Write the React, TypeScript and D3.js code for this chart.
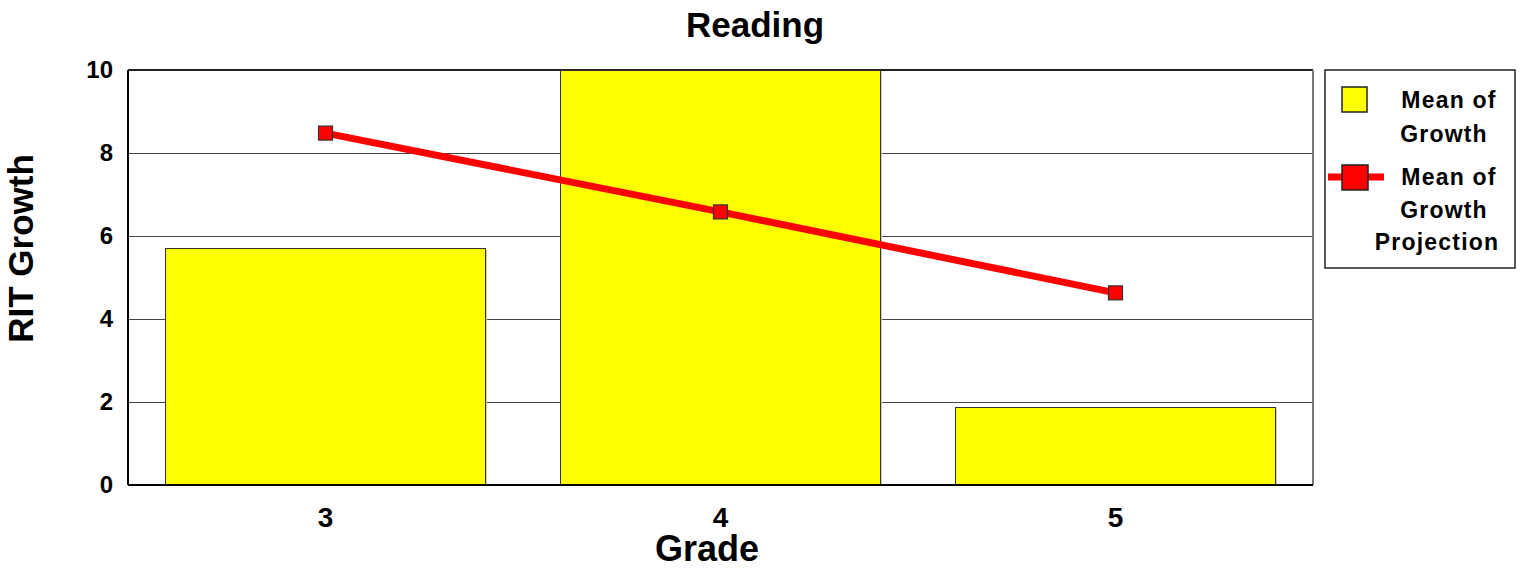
import React from "react";
import * as d3 from "d3";

const grades = ["3", "4", "5"];
const meanGrowth = [5.7, 10, 1.87];
const growthProjection = [8.48, 6.58, 4.63];
const yTicks = [0, 2, 4, 6, 8, 10];

const width = 1527;
const height = 568;
const margin = { top: 70, right: 214, bottom: 83, left: 128 };
const font = "Arial, 'Liberation Sans', sans-serif";

export default function App() {
  const x = d3
    .scaleBand<string>()
    .domain(grades)
    .range([margin.left, width - margin.right])
    .padding(0);

  const y = d3
    .scaleLinear()
    .domain([0, 10])
    .range([height - margin.bottom, margin.top]);

  const barW = x.bandwidth() * 0.81;
  const cx = (g: string) => (x(g) ?? 0) + x.bandwidth() / 2;

  const line = d3
    .line<number>()
    .x((_, i) => cx(grades[i]))
    .y((d) => y(d));

  const left = margin.left;
  const right = width - margin.right;
  const top = margin.top;
  const bottom = height - margin.bottom;

  // legend box
  const lg = { x: 1325, y: 70, w: 190, h: 198 };

  return (
    <svg
      width={width}
      height={height}
      style={{ position: "absolute", left: 0, top: 0, background: "#fff" }}
      fontFamily={font}
      fontWeight="bold"
    >
      <text x={755} y={37} textAnchor="middle" fontSize={35}>
        Reading
      </text>

      {/* grid */}
      <g shapeRendering="crispEdges">
        {yTicks.slice(1, -1).map((t) => (
          <line key={t} x1={left} x2={right} y1={y(t)} y2={y(t)} stroke="#444" strokeWidth={1} />
        ))}
        <line x1={left} x2={right} y1={top} y2={top} stroke="#222" strokeWidth={1.5} />
        <line x1={right} x2={right} y1={top} y2={bottom} stroke="#777" strokeWidth={2} />
      </g>

      {/* bars */}
      {grades.map((g, i) => (
        <g key={g} shapeRendering="crispEdges">
          <rect
            x={cx(g) - barW / 2 + 2}
            y={y(meanGrowth[i]) + 2}
            width={barW}
            height={bottom - y(meanGrowth[i]) - 2}
            fill="#c8c8c8"
          />
          <rect
            x={cx(g) - barW / 2}
            y={y(meanGrowth[i])}
            width={barW}
            height={bottom - y(meanGrowth[i])}
            fill="#ffff00"
            stroke="#333"
            strokeWidth={1}
          />
        </g>
      ))}

      {/* axes */}
      <g shapeRendering="crispEdges">
        <line x1={left} x2={left} y1={top} y2={bottom} stroke="#000" strokeWidth={2} />
        <line x1={left} x2={right} y1={bottom} y2={bottom} stroke="#000" strokeWidth={2} />
      </g>

      {yTicks.map((t) => (
        <text key={t} x={left - 15} y={y(t)} dy="0.35em" textAnchor="end" fontSize={24}>
          {t}
        </text>
      ))}
      {grades.map((g) => (
        <text key={g} x={cx(g)} y={527} textAnchor="middle" fontSize={28}>
          {g}
        </text>
      ))}

      <text x={707} y={561} textAnchor="middle" fontSize={36}>
        Grade
      </text>
      <text
        transform={`translate(33,${(top + bottom) / 2 - 29}) rotate(-90)`}
        textAnchor="middle"
        fontSize={35}
      >
        RIT Growth
      </text>

      {/* projection line */}
      <path d={line(growthProjection) ?? ""} fill="none" stroke="#ff0000" strokeWidth={7} />
      {growthProjection.map((v, i) => (
        <rect
          key={i}
          x={cx(grades[i]) - 7}
          y={y(v) - 7}
          width={14}
          height={14}
          fill="#ff0000"
          stroke="#333"
          strokeWidth={1.2}
        />
      ))}

      {/* legend */}
      <rect x={lg.x} y={lg.y} width={lg.w} height={lg.h} fill="#fff" stroke="#222" strokeWidth={1.5} />
      <rect x={1342} y={87} width={25} height={25} fill="#ffff00" stroke="#222" strokeWidth={1.5} />
      <line x1={1328} x2={1384} y1={177} y2={177} stroke="#ff0000" strokeWidth={7} />
      <rect x={1342} y={165} width={26} height={25} fill="#ff0000" stroke="#222" strokeWidth={1.5} />
      <g fontSize={23} letterSpacing={1.2} textAnchor="middle">
        <text x={1449} y={108}>Mean of</text>
        <text x={1444} y={142}>Growth</text>
        <text x={1449} y={185}>Mean of</text>
        <text x={1444} y={218}>Growth</text>
        <text x={1437} y={250}>Projection</text>
      </g>
    </svg>
  );
}
